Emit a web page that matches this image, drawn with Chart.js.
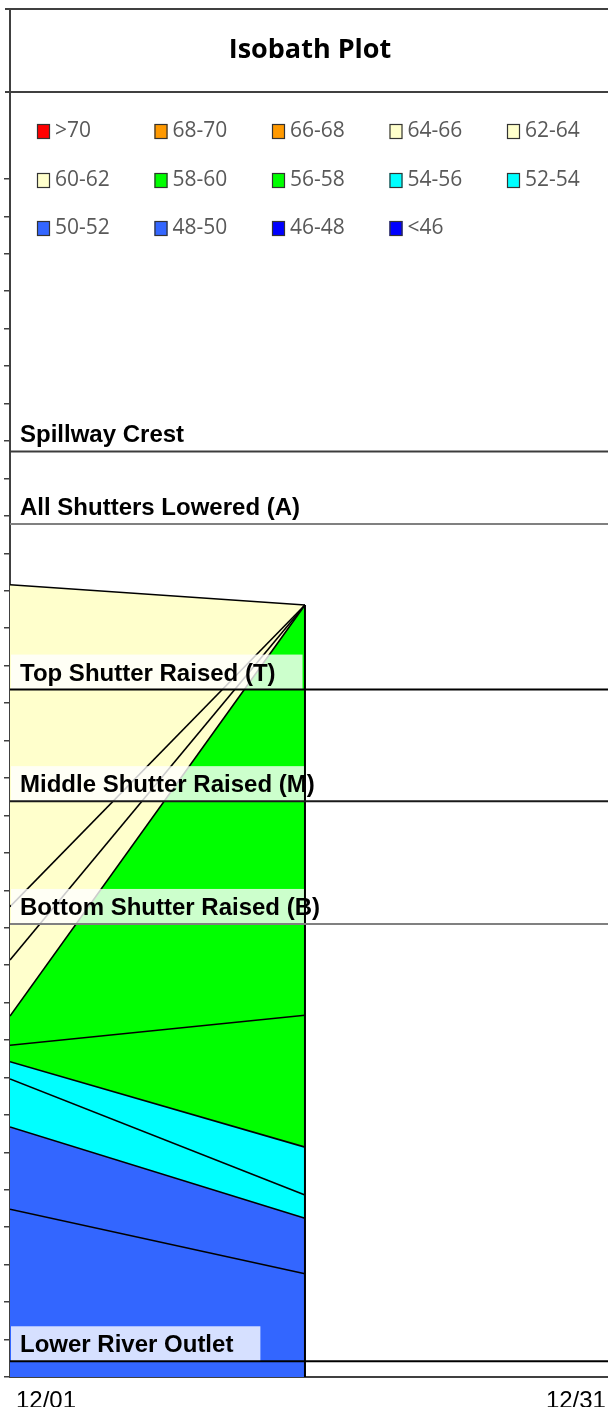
<!DOCTYPE html>
<html>
<head>
<meta charset="utf-8">
<script src="https://cdn.jsdelivr.net/npm/chart.js@4.4.1/dist/chart.umd.min.js"></script>
<style>
html,body{margin:0;padding:0;background:#ffffff;}
#wrap{position:relative;width:608px;height:1407px;}
canvas{display:block;}
</style>
</head>
<body>
<div id="wrap"><canvas id="c" width="608" height="1407"></canvas></div>
<script>
// ---------------- data ----------------
const chartTitle = 'Isobath Plot';
const xTickValues = [1, 31];
const xTickLabels = ['12/01', '12/31'];
const dates = [1, 16];                 // day of December for each profile
const surface = [1305.8, 1303.1];      // water surface elevation
const iso64 = [1262.8, 1303.1];
const iso62 = [1255.7, 1303.1];
const iso60 = [1248.2, 1303.1];
const iso58 = [1244.3, 1248.3];
const iso56 = [1242.1, 1230.7];
const iso54 = [1239.8, 1224.3];
const iso52 = [1233.4, 1221.2];
const iso50 = [1222.4, 1213.8];

const legendLabels = ['>70', '68-70', '66-68', '64-66', '62-64',
                      '60-62', '58-60', '56-58', '54-56', '52-54',
                      '50-52', '48-50', '46-48', '<46'];
const legendColors = ['#FF0000', '#FF9900', '#FF9900', '#FFFFCC', '#FFFFCC',
                      '#FFFFCC', '#00FF00', '#00FF00', '#00FFFF', '#00FFFF',
                      '#3366FF', '#3366FF', '#0000FF', '#0000FF'];

const refNames = ['Spillway Crest', 'All Shutters Lowered (A)', 'Top Shutter Raised (T)',
                  'Middle Shutter Raised (M)', 'Bottom Shutter Raised (B)', 'Lower River Outlet'];
const refElev = [1323.6, 1313.9, 1291.8, 1276.9, 1260.5, 1202.1];
const refColors = ['#3c3c3c', '#808080', '#000000', '#1a1a1a', '#808080', '#000000'];

const yMin = 1200, yMax = 1371.6, yStep = 5, yTickTop = 1360;
const xMin = 1, xMax = 31.41;

// ---------------- datasets ----------------
const pts = arr => dates.map((d, i) => ({x: d, y: arr[i]}));
const colorOf = lab => legendColors[legendLabels.indexOf(lab)];

const bands = [
  {arr: iso50, band: '48-50', fill: 'start'},
  {arr: iso52, band: '50-52', fill: '-1'},
  {arr: iso54, band: '52-54', fill: '-1'},
  {arr: iso56, band: '54-56', fill: '-1'},
  {arr: iso58, band: '56-58', fill: '-1'},
  {arr: iso60, band: '58-60', fill: '-1'},
  {arr: iso62, band: '60-62', fill: '-1'},
  {arr: iso64, band: '62-64', fill: '-1'},
  {arr: surface, band: '64-66', fill: '-1'}
];

const datasets = bands.map(b => ({
  label: b.band,
  data: pts(b.arr),
  fill: b.fill,
  backgroundColor: colorOf(b.band),
  borderColor: '#000000',
  borderWidth: 1.6,
  pointRadius: 0,
  tension: 0,
  order: 2
}));

refNames.forEach((n, i) => {
  datasets.push({
    label: n,
    data: [{x: xMin, y: refElev[i]}, {x: xMax, y: refElev[i]}],
    fill: false,
    borderColor: refColors[i],
    borderWidth: 2,
    pointRadius: 0,
    order: 1
  });
});

datasets.push({
  label: 'edge',
  data: [{x: dates[dates.length - 1], y: yMin}, {x: dates[dates.length - 1], y: surface[surface.length - 1]}],
  fill: false,
  borderColor: '#000000',
  borderWidth: 2,
  pointRadius: 0,
  order: 1
});

// ---------------- decorations ----------------
const LABEL_FONT = 'bold 24px "Liberation Sans", Arial, sans-serif';

const decor = {
  id: 'decor',
  beforeDraw(chart) {
    const ctx = chart.ctx;
    ctx.save();
    ctx.fillStyle = '#ffffff';
    ctx.fillRect(0, 0, chart.width, chart.height);
    ctx.restore();
  },
  afterDatasetDraw(chart, args) {
    if (args.index !== 0) return;
    const ctx = chart.ctx, area = chart.chartArea, ys = chart.scales.y;
    ctx.save();
    ctx.beginPath();
    ctx.rect(area.left, area.top, area.right - area.left, area.bottom - area.top);
    ctx.clip();
    ctx.font = LABEL_FONT;
    refNames.forEach((n, i) => {
      const y = ys.getPixelForValue(refElev[i]);
      const w = ctx.measureText(n).width;
      ctx.fillStyle = 'rgba(255,255,255,0.8)';
      ctx.fillRect(area.left + 1, y - 35, w + 36, 35);
    });
    ctx.restore();
  },
  afterDraw(chart) {
    const ctx = chart.ctx, area = chart.chartArea, ys = chart.scales.y;
    ctx.save();
    // reference labels
    ctx.font = LABEL_FONT;
    ctx.fillStyle = '#000000';
    ctx.textAlign = 'left';
    ctx.textBaseline = 'alphabetic';
    refNames.forEach((n, i) => {
      const y = ys.getPixelForValue(refElev[i]);
      ctx.fillText(n, area.left + 10, y - 9);
    });
    // title box
    ctx.strokeStyle = '#404040';
    ctx.lineWidth = 2;
    ctx.beginPath();
    ctx.moveTo(area.left - 5, 9); ctx.lineTo(chart.width, 9);
    ctx.moveTo(area.left - 5, area.top); ctx.lineTo(chart.width, area.top);
    ctx.moveTo(area.left, 8); ctx.lineTo(area.left, area.top);
    ctx.stroke();
    ctx.font = 'bold 27px "Open Sans", sans-serif';
    ctx.fillStyle = '#000000';
    ctx.textAlign = 'center';
    ctx.textBaseline = 'middle';
    ctx.fillText(chartTitle, (area.left + chart.width) / 2 + 1, 50);
    // legend
    ctx.font = '21px "Open Sans", sans-serif';
    ctx.textAlign = 'left';
    ctx.textBaseline = 'middle';
    const rowY = [131, 180, 228];
    legendLabels.forEach((lab, i) => {
      const r = Math.floor(i / 5), c = i % 5;
      const x = 37 + c * 117.5, y = rowY[r];
      ctx.fillStyle = legendColors[i];
      ctx.fillRect(x, y - 7, 13, 15);
      ctx.strokeStyle = '#333333';
      ctx.lineWidth = 1.2;
      ctx.strokeRect(x + 0.5, y - 6.5, 12, 14);
      ctx.fillStyle = '#595959';
      ctx.fillText(lab, x + 18, y);
    });
    ctx.restore();
  }
};

new Chart(document.getElementById('c'), {
  type: 'line',
  data: {datasets},
  options: {
    responsive: false,
    animation: false,
    devicePixelRatio: 1,
    layout: {padding: {left: 4, top: 92, right: 0, bottom: 0}},
    plugins: {legend: {display: false}, tooltip: {enabled: false}, title: {display: false}},
    scales: {
      x: {
        type: 'linear', min: xMin, max: xMax,
        grid: {display: false},
        border: {display: true, color: '#404040', width: 2},
        ticks: {
          align: 'inner', labelOffset: 6, padding: 2, autoSkip: false, maxRotation: 0,
          color: '#000000',
          font: {family: '"Liberation Sans", Arial, sans-serif', size: 24},
          callback: v => { const k = xTickValues.indexOf(v); return k >= 0 ? xTickLabels[k] : ''; }
        },
        afterBuildTicks: s => { s.ticks = xTickValues.map(v => ({value: v})); },
        afterFit: s => { s.height = 30; }
      },
      y: {
        type: 'linear', min: yMin, max: yMax,
        ticks: {display: false, stepSize: yStep},
        grid: {display: true, drawOnChartArea: false, drawTicks: true, tickLength: 6, color: '#404040', lineWidth: 1.5},
        border: {display: true, color: '#404040', width: 2},
        afterBuildTicks: s => { s.ticks = s.ticks.filter(t => t.value <= yTickTop); },
        afterFit: s => { s.width = 6; }
      }
    }
  },
  plugins: [decor]
});
</script>
</body>
</html>
